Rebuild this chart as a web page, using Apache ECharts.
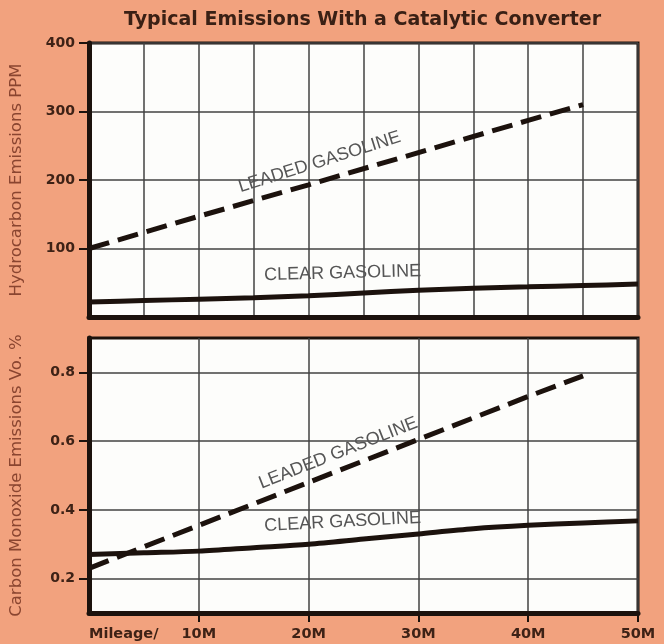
<!DOCTYPE html>
<html>
<head>
<meta charset="utf-8">
<script src="https://cdn.jsdelivr.net/npm/echarts@6/dist/echarts.min.js"></script>
<style>
  html, body { margin: 0; padding: 0; background: #f2a27e; }
  #chart { width: 664px; height: 644px; }
</style>
</head>
<body>
<div id="chart"></div>
<script>
// Mileage in thousands of miles (M)
const mileage = [0, 5, 10, 15, 20, 25, 30, 35, 40, 45, 50];

// Hydrocarbon emissions, PPM
const hcClear = [22, 24, 26, 28, 31, 35, 39, 42, 44, 46, 48];
const hcLeadedMiles = [0, 10, 20, 30, 40, 45];
const hcLeaded = [100, 147, 193, 240, 287, 310];

// Carbon monoxide emissions, volume %
const coClear = [0.27, 0.275, 0.28, 0.29, 0.30, 0.315, 0.33, 0.345, 0.355, 0.362, 0.368];
const coLeadedMiles = [0, 10, 20, 30, 40, 45];
const coLeaded = [0.23, 0.355, 0.48, 0.605, 0.73, 0.79];

// Axis tick labels
const hcTicks = [100, 200, 300, 400];
const coTicks = [0.2, 0.4, 0.6, 0.8];
const mileLabelValues = [0, 10, 20, 30, 40, 50];
const mileTickValues = [10, 20, 30, 40, 50];

const INK = '#1c120d';
const LABEL_BROWN = '#3e2216';
const NAME_BROWN = '#8a4530';
const GRID_LINE = '#424242';

const pair = (xs, ys) => xs.map((x, i) => [x, ys[i]]);

function xAxisFor(gridIndex, showLabels) {
  return {
    type: 'value', gridIndex, min: 0, max: 50, interval: 5,
    axisLine: { show: true, onZero: false, lineStyle: { color: INK, width: 5 } },
    axisTick: showLabels
      ? { show: true, customValues: mileTickValues, length: 9, lineStyle: { color: INK, width: 2 } }
      : { show: false },
    axisLabel: showLabels ? {
      show: true, customValues: mileLabelValues, margin: 14,
      color: LABEL_BROWN, fontFamily: 'DejaVu Sans', fontWeight: 'bold', fontSize: 14.5,
      formatter: v => (v === 0 ? 'Mileage/' : v + 'M'),
      alignMinLabel: 'left', alignMaxLabel: 'center'
    } : { show: false },
    splitLine: { show: true, lineStyle: { color: GRID_LINE, width: 1.5 } }
  };
}

function yAxisFor(gridIndex, min, max, interval, ticks, name, fmt) {
  return {
    type: 'value', gridIndex, min, max, interval,
    name, nameLocation: 'middle', nameGap: 64, nameRotate: 90,
    nameTextStyle: { color: NAME_BROWN, fontFamily: 'DejaVu Sans', fontSize: 16.5 },
    axisLine: { show: true, lineStyle: { color: INK, width: 5 } },
    axisTick: { show: true, customValues: ticks, length: 10, lineStyle: { color: INK, width: 2 } },
    axisLabel: {
      show: true, customValues: ticks, margin: 14,
      color: LABEL_BROWN, fontFamily: 'DejaVu Sans', fontWeight: 'bold', fontSize: 14,
      formatter: fmt
    },
    splitLine: { show: true, lineStyle: { color: GRID_LINE, width: 1.5 } }
  };
}

const solidStyle = { color: INK, width: 5 };
const dashStyle = { color: INK, width: 5, type: [21, 9] };

const chart = echarts.init(document.getElementById('chart'), null, { renderer: 'canvas' });

const option = {
  backgroundColor: '#f2a27e',
  animation: false,
  title: {
    text: 'Typical Emissions With a Catalytic Converter',
    left: 119, top: 6,
    textStyle: { color: '#3a2015', fontFamily: 'DejaVu Sans', fontWeight: 'bold', fontSize: 19 }
  },
  grid: [
    { left: 88, top: 43, width: 550, height: 274, show: true,
      backgroundColor: '#fdfdfb', borderColor: INK, borderWidth: 3 },
    { left: 88, top: 338, width: 550, height: 275, show: true,
      backgroundColor: '#fdfdfb', borderColor: INK, borderWidth: 3 }
  ],
  xAxis: [xAxisFor(0, false), xAxisFor(1, true)],
  yAxis: [
    yAxisFor(0, 0, 400, 50, hcTicks, 'Hydrocarbon Emissions PPM', v => String(v)),
    yAxisFor(1, 0.1, 0.9, 0.1, coTicks, 'Carbon Monoxide Emissions Vo. %', v => v.toFixed(1))
  ],
  series: [
    { type: 'line', name: 'Leaded gasoline HC', xAxisIndex: 0, yAxisIndex: 0,
      data: pair(hcLeadedMiles, hcLeaded), showSymbol: false, lineStyle: dashStyle, z: 5 },
    { type: 'line', name: 'Clear gasoline HC', xAxisIndex: 0, yAxisIndex: 0,
      data: pair(mileage, hcClear), showSymbol: false, smooth: 0.3, lineStyle: solidStyle, z: 5 },
    { type: 'line', name: 'Leaded gasoline CO', xAxisIndex: 1, yAxisIndex: 1,
      data: pair(coLeadedMiles, coLeaded), showSymbol: false, lineStyle: dashStyle, z: 5 },
    { type: 'line', name: 'Clear gasoline CO', xAxisIndex: 1, yAxisIndex: 1,
      data: pair(mileage, coClear), showSymbol: false, smooth: 0.3, lineStyle: solidStyle, z: 5 }
  ]
};

chart.setOption(option);

// Curve captions, anchored in data space and tilted along their curves
const captions = [
  { grid: 0, at: [21.0, 226], text: 'LEADED GASOLINE', deg: 17.5 },
  { grid: 0, at: [23.1, 64], text: 'CLEAR GASOLINE', deg: 1.5 },
  { grid: 1, at: [22.7, 0.565], text: 'LEADED GASOLINE', deg: 21.5 },
  { grid: 1, at: [23.1, 0.365], text: 'CLEAR GASOLINE', deg: 3 }
];

chart.setOption({
  graphic: captions.map(c => {
    const p = chart.convertToPixel({ gridIndex: c.grid }, c.at);
    return {
      type: 'text', x: p[0], y: p[1], rotation: c.deg * Math.PI / 180, z: 10,
      style: {
        text: c.text, fill: '#555555', fontFamily: 'Liberation Sans',
        fontSize: 18, fontWeight: 'normal', align: 'center', verticalAlign: 'middle'
      }
    };
  })
});
</script>
</body>
</html>
